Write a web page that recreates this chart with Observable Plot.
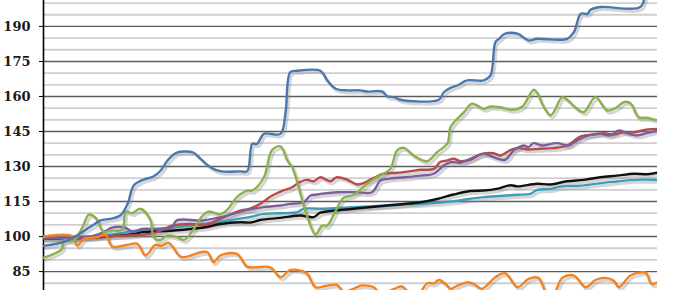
<!DOCTYPE html>
<html>
<head>
<meta charset="utf-8">
<script src="https://cdn.jsdelivr.net/npm/d3@7"></script>
<script src="https://cdn.jsdelivr.net/npm/@observablehq/plot@0.6"></script>
<style>
  html, body { margin: 0; padding: 0; background: #fff; }
  #chart { width: 680px; height: 290px; overflow: hidden; }
</style>
</head>
<body>
<div id="chart"></div>
<script>
// Y tick labels (major gridlines) and minor gridlines
const majorTicks = [85, 100, 115, 130, 145, 160, 175, 190];
const minorTicks = [80, 90, 95, 105, 110, 120, 125, 135, 140, 150, 155, 165, 170, 180, 185, 195, 200];

// Series: [period (0-100 across the time span), index value]
const blueSeries = [[0,96],[3.9,98.3],[7.7,104.3],[9.3,106.9],[10.9,107.6],[12.5,109],[13.7,114],[14.7,121.9],[16.3,124.4],[17.9,125.7],[19.1,128.3],[20.2,132.6],[21.5,135.7],[22.8,136.4],[24.4,136],[25.6,133.3],[27.2,129.7],[28.8,128],[32.1,127.9],[33.2,128],[34,139.7],[34.8,139.7],[35.9,144],[38.6,144],[39.4,152.6],[40.2,170.4],[41.3,171],[45.1,171],[46.2,166.9],[47.6,163.3],[49.5,162.6],[51.6,162.6],[52.7,162.1],[55.2,162.1],[56,160.1],[57.1,159.7],[58.1,158.6],[64.4,158.6],[65.2,161.8],[66.3,163.7],[67.4,164.7],[69,166.9],[71.7,166.9],[72.8,169],[73.6,183.3],[74.2,184.7],[75.2,186.9],[77.2,186.9],[79,184],[80.4,184.7],[85.3,184.7],[86.4,187.6],[87.5,195.4],[88.6,195.4],[89.1,197.1],[90.7,198.3],[97.2,198.3],[98.2,205],[100,210]];

const greenSeries = [[0,90.9],[1.7,92.6],[3,94.7],[3.3,98.3],[4.9,98.3],[6.3,103.7],[7.4,109.4],[8.5,108],[9.8,101.9],[10.9,102.6],[12.8,102.9],[13.4,110.7],[14.4,110],[15.8,111.9],[17.4,107.1],[18,99.4],[19.1,98.6],[20.1,100.4],[21.8,99.7],[22.9,98.6],[24.5,103.3],[25.8,108.6],[26.9,110.7],[28.8,109.5],[29.9,111.4],[31.5,116.9],[33.2,119.7],[34,119.7],[35.9,125.4],[37.2,136.9],[38.6,138.6],[39.7,132.6],[40.5,129.7],[42.9,109],[44.3,100.9],[45.4,104.7],[46.2,104.7],[47.6,111.1],[48.9,116.6],[50.3,117.6],[51.6,120],[52.7,122.6],[54.3,125.4],[55.4,126.9],[56.5,129],[57.6,136.9],[58.7,138],[60.3,134.7],[62.5,132.3],[64.1,136.1],[65.8,140],[66.3,146.9],[68.5,153.3],[69.8,156.9],[71.7,154.7],[72.8,155.7],[74.4,155.4],[76.3,154.3],[78,155.7],[79.9,162.9],[81.5,155.4],[82.6,151.9],[84.5,159.7],[85.3,158.6],[86.9,154.7],[88,153.3],[89.9,159.7],[91.8,154],[93.4,155.4],[94.5,157.6],[95.6,157.1],[96.9,151.1],[98.2,150.9],[100,149.7]];

const orangeSeries = [[0,100],[2.2,100.7],[4.7,100.1],[5.5,96.1],[6.6,99],[8.7,99.7],[10.1,100.7],[11.2,95.7],[13.6,96.4],[15.3,96.9],[16.6,91.9],[18.2,96.4],[19.3,96.1],[20.4,97.3],[22.3,91.4],[23.4,91.4],[25.6,93.3],[26.7,93.3],[27.7,89],[28.8,91.9],[31.5,92.6],[33.2,87.1],[36.4,87.1],[37.2,86.4],[38.6,82.6],[40.2,85.7],[41.9,85.4],[42.9,84.3],[44.3,78.3],[46.2,79],[47.8,79.3],[48.9,76.5],[51.1,78.3],[51.6,79],[52.7,79],[53.8,78.3],[54.9,75.5],[57.1,77.6],[58.4,78.6],[59.8,75.5],[61.4,76.5],[62.5,80],[63.6,80],[64.4,81.4],[65.5,79.7],[66.3,77.6],[67.4,79],[69,80.4],[70.1,79.7],[71.4,77.6],[73.6,82.6],[75.2,84.3],[77.2,78.3],[79,81.9],[80.6,82.3],[82,75.5],[83.1,75.5],[84.5,82.3],[86.4,83.3],[88.3,78.3],[89.9,81.4],[91.5,82.3],[92.9,81.1],[93.7,78.3],[95.6,83.3],[97.5,84.7],[98.2,84.3],[99,79.7],[100,80.4]];

const redSeries = [[0,99.3],[9.3,100],[14.7,100.6],[18,101.5],[21,104.7],[24,105.4],[26.4,105.1],[28.8,107.6],[32,111.1],[33.5,111.9],[35.3,114],[37.2,117.5],[38.9,119.6],[40.5,121.1],[41.7,123.3],[42.9,124.3],[44,123.7],[45.1,125.4],[46.7,123.7],[47.8,125.4],[49.5,124.3],[51.1,122.3],[52.2,123],[53.8,125.1],[55.4,126.9],[57.6,127.3],[59.8,128],[61.4,128.6],[63.6,129],[64.6,131.9],[65.8,132.6],[66.8,133.3],[67.9,132.3],[69.5,132.9],[71.4,135.4],[73.3,135.7],[74.4,134.7],[76.1,137.1],[77.4,137.9],[78.8,137.3],[80.9,137.6],[83.1,137.9],[85.3,139],[87.5,142.9],[89.6,143.7],[91.3,144.3],[92.9,143.7],[94.5,144.7],[96.2,144.7],[98.4,145.9],[100,146.1]];

const purpleSeries = [[0,99.3],[7.7,100],[10.3,102.6],[11,103.7],[13.1,104],[14.7,101.9],[16,103.3],[20.7,103.5],[21.7,106.9],[26,106.9],[29.4,108.6],[33.2,111.4],[35.9,112.6],[38.6,113.3],[40.2,114],[42.4,114.7],[43.5,117.6],[44.6,118],[45.1,118.3],[47.8,119],[50.9,119],[53.5,119],[54.9,124],[56.2,124.7],[58.9,125.4],[61.4,126.1],[63.6,126.9],[65.2,130.4],[66.3,131.9],[67.9,131.6],[69.5,133.3],[71.7,135.4],[73.3,134],[75.2,132.9],[76.6,136.9],[78.2,139],[79,138.3],[79.8,140],[81.2,139],[83.6,140],[85.5,139],[86.9,141.1],[88.8,143.3],[90.7,144],[92.3,143.3],[93.7,145.4],[95,144.3],[96.7,143.3],[98.3,144.3],[100,145.4]];

const blackSeries = [[0,99],[9.3,99.8],[13.1,100.6],[14.7,101.1],[16,101.9],[21.2,102.6],[26.4,104],[28.8,105.4],[32.1,106.1],[33.8,106],[35.3,107.1],[38.6,108],[41.9,109],[44,108.3],[45.1,110.2],[50.5,111.9],[55.9,113.3],[61.4,114.7],[64.1,116.1],[66.8,118],[69.5,119.5],[71.7,119.7],[73.8,120.4],[76.1,122],[77.2,121.5],[80.4,122.6],[82.6,122.3],[85.3,123.7],[88,124.3],[90.7,125.4],[93.4,126.1],[96.2,126.9],[98.4,126.7],[100,127.4]];

const tealSeries = [[0,100],[9.3,100.3],[16,102.9],[20.1,103.7],[24,104.7],[28.1,106],[29.4,106.6],[33.5,108.3],[35.9,109.7],[38.6,110],[41.3,110.4],[42.4,111.9],[45.1,111.9],[50.5,112.6],[55.9,113.3],[61.4,114],[66.8,115.1],[69.5,116.2],[71.7,116.9],[77.2,117.9],[79.3,118.3],[80.4,120],[82.6,120.4],[84.2,121.4],[88,121.9],[90.7,122.9],[93.4,123.6],[96.2,124.3],[100,124.3]];

const seriesList = [
  {data: tealSeries, color: "#3b9fb8"},
  {data: blackSeries, color: "#111111"},
  {data: redSeries, color: "#b84a47"},
  {data: purpleSeries, color: "#7b5ea0"},
  {data: orangeSeries, color: "#f5821f"},
  {data: greenSeries, color: "#8cb04b"},
  {data: blueSeries, color: "#4a77af"}
];

const lineMarks = [];
for (const s of seriesList) {
  lineMarks.push(Plot.line(s.data, {x: d => d[0], y: d => d[1], curve: "catmull-rom",
    stroke: "#888", strokeOpacity: 0.35, strokeWidth: 3, dx: 2, dy: 2.5, clip: true}));
}
for (const s of seriesList) {
  lineMarks.push(Plot.line(s.data, {x: d => d[0], y: d => d[1], curve: "catmull-rom",
    stroke: s.color, strokeWidth: 2.4, clip: true}));
}

const chart = Plot.plot({
  width: 680,
  height: 290,
  marginLeft: 43,
  marginRight: 23,
  marginTop: 0,
  marginBottom: 0,
  style: {font: "bold 13px 'DejaVu Serif'", color: "#1a1a1a", background: "#fff"},
  x: {domain: [0, 100], axis: null},
  y: {domain: [76.9, 201.1], axis: null},
  marks: [
    Plot.ruleY(minorTicks, {stroke: "#cfcfcf", strokeWidth: 1.8}),
    Plot.ruleY(majorTicks, {stroke: "#5c5c5c", strokeWidth: 1.4}),
    Plot.axisY(majorTicks, {tickSize: 4, tickPadding: 9, stroke: "#000", tickFormat: d => String(d)}),
    Plot.ruleX([0], {stroke: "#000", strokeWidth: 1.6}),
    ...lineMarks
  ]
});
document.getElementById("chart").appendChild(chart);
</script>
</body>
</html>
